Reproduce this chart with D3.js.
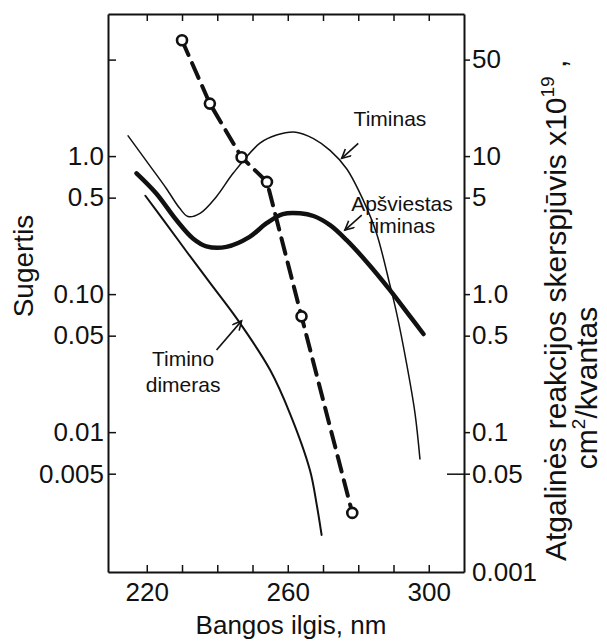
<!doctype html>
<html lang="lt">
<head>
<meta charset="UTF-8">
<title>Sugertis ir atgalinės reakcijos skerspjūvis</title>
<style>
  body { margin: 0; background: #fff; }
  svg text { font-family: "Liberation Sans", Arial, Helvetica, sans-serif; fill: #111; }
  .axis path { stroke: #111; stroke-width: 2px; }
  .axis line { stroke: #111; stroke-width: 1.5px; }
  .axis text { font-size: 26px; }
  .curve { fill: none; stroke: #111; stroke-linejoin: round; stroke-linecap: round; }
  .note { font-size: 21px; }
</style>
</head>
<body>
<svg id="chart" width="607" height="641"></svg>
<script src="https://d3js.org/d3.v7.min.js"></script>
<script>
// [bangos ilgis nm, sugertis]
const timinas = [[214.7,1.40],[220.9,0.85],[225.6,0.58],[229.3,0.42],[231.7,0.365],[235.1,0.385],
  [239.8,0.51],[244.5,0.75],[252.1,1.24],[256.8,1.42],[262.3,1.49],[267.3,1.34],[272.0,1.10],
  [276.7,0.81],[281.4,0.48],[285.2,0.275],[289.0,0.116],[290.9,0.0725],[293.7,0.0315],
  [296.1,0.0137],[297.5,0.0064]];
const apsviestas = [[217.1,0.75],[222.7,0.536],[228.4,0.344],[233.1,0.253],[236.9,0.222],
  [242.6,0.22],[249.2,0.26],[253.9,0.325],[258.6,0.38],[263.5,0.385],[267.3,0.368],[272.0,0.316],
  [276.7,0.246],[282.4,0.171],[289.0,0.107],[294.7,0.069],[298.5,0.0514]];
const dimeras = [[219.6,0.516],[225.0,0.337],[231.7,0.197],[238.0,0.12],[245.9,0.0645],
  [255.0,0.0282],[260.6,0.0137],[266.3,0.0053],[268.2,0.0030],[269.6,0.0018]];
// [bangos ilgis nm, skerspjuvis x10^19] (desine asis)
const skerspjuvis = [[230.0,69],[237.9,24],[246.9,9.8],[254.1,6.5],[263.9,0.69],[278.3,0.026]];

// asiu padalos
const xTicks = [220,230,240,250,260,270,280,290,300];
const xLabels = ["220","","","","260","","","","300"];
const leftTicks = [5,1,0.5,0.1,0.05,0.01,0.005];
const leftLabels = ["","1.0","0.5","0.10","0.05","0.01","0.005"];
const rightTicks = [50,10,5,1,0.5,0.1,0.05,0.0097];
const rightLabels = ["50","10","5","1.0","0.5","0.1","0.05","0.001"];

// uzrasai su rodyklemis: teksto vieta ir rodykle (duomenu koordinatemis)
const notes = [
  {lines:["Timinas"], x:289.0, y:[1.65], from:[280.0,1.236], to:[275.3,0.962]},
  {lines:["Apšviestas","timinas"], x:292.4, y:[0.399,0.277], from:[281.0,0.373], to:[276.2,0.291]},
  {lines:["Timino","dimeras"], x:230.3, y:[0.0302,0.0195], from:[239.8,0.0393], to:[246.9,0.064]}
];

const L = 108, R = 464, T = 14, B = 572;
const svg = d3.select("#chart");

const x = d3.scaleLinear().domain([209, 310]).range([L, R]);
const y = d3.scaleLog().domain([0.00097, 10.7]).range([B, T]);
const yR = d3.scaleLog().domain([0.0097, 107]).range([B, T]);

// rodykles galvute
svg.append("defs").append("marker")
    .attr("id", "arrow")
    .attr("markerUnits", "userSpaceOnUse")
    .attr("markerWidth", 12).attr("markerHeight", 12)
    .attr("refX", 10).attr("refY", 5)
    .attr("orient", "auto")
  .append("path")
    .attr("d", "M1,0.5 L10,5 L1,9.5")
    .attr("fill", "none").attr("stroke", "#111").attr("stroke-width", 1.6);

// asys
svg.append("g").attr("class", "axis")
    .attr("transform", `translate(${L},0)`)
    .call(d3.axisLeft(y).tickValues(leftTicks).tickFormat((d, i) => leftLabels[i])
      .tickSize(-8).tickSizeOuter(0).tickPadding(4));

svg.append("g").attr("class", "axis")
    .attr("transform", `translate(0,${B})`)
    .call(d3.axisBottom(x).tickValues(xTicks).tickFormat((d, i) => xLabels[i])
      .tickSize(-7).tickSizeOuter(0).tickPadding(11));

svg.append("g").attr("class", "axis")
    .attr("transform", `translate(0,${T})`)
    .call(d3.axisTop(x).tickValues(xTicks).tickFormat("").tickSize(-7).tickSizeOuter(0));

const rightAxis = svg.append("g").attr("class", "axis")
    .attr("transform", `translate(${R},0)`)
    .call(d3.axisRight(yR).tickValues(rightTicks).tickFormat((d, i) => rightLabels[i])
      .tickSize(6).tickSizeOuter(0).tickPadding(2));
// 0.05 padala kyšo ir i vidu
rightAxis.selectAll(".tick").filter(d => d === 0.05).select("line").attr("x1", -17);
rightAxis.selectAll(".tick").filter(d => d === 0.0097).select("line").remove();

// kreives
const line = d3.line()
    .x(d => x(d[0]))
    .y(d => y(d[1]))
    .curve(d3.curveCatmullRom.alpha(0.5));

svg.append("path").datum(timinas).attr("class", "curve")
    .attr("stroke-width", 1.5).attr("d", line);
svg.append("path").datum(dimeras).attr("class", "curve")
    .attr("stroke-width", 2).attr("d", line);
svg.append("path").datum(apsviestas).attr("class", "curve")
    .attr("stroke-width", 4.5).attr("d", line);

const lineR = d3.line().x(d => x(d[0])).y(d => yR(d[1]));
svg.append("path").datum(skerspjuvis).attr("class", "curve")
    .attr("stroke-width", 4)
    .attr("stroke-linecap", "butt")
    .attr("stroke-dasharray", "16,9")
    .attr("d", lineR);

svg.selectAll("circle.pt").data(skerspjuvis).join("circle")
    .attr("class", "pt")
    .attr("cx", d => x(d[0])).attr("cy", d => yR(d[1]))
    .attr("r", 5)
    .attr("fill", "#fff").attr("stroke", "#111").attr("stroke-width", 2.6);

// uzrasai
notes.forEach(n => {
  n.lines.forEach((t, i) => {
    svg.append("text").attr("class", "note")
        .attr("x", x(n.x)).attr("y", y(n.y[i]))
        .attr("text-anchor", "middle")
        .text(t);
  });
  svg.append("line")
      .attr("x1", x(n.from[0])).attr("y1", y(n.from[1]))
      .attr("x2", x(n.to[0])).attr("y2", y(n.to[1]))
      .attr("stroke", "#111").attr("stroke-width", 1.6)
      .attr("marker-end", "url(#arrow)");
});

// asiu pavadinimai
svg.append("text")
    .attr("x", 291).attr("y", 634)
    .attr("text-anchor", "middle")
    .style("font-size", "26px")
    .text("Bangos ilgis, nm");

svg.append("text")
    .attr("transform", "translate(33,266) rotate(-90)")
    .attr("text-anchor", "middle")
    .style("font-size", "28px")
    .text("Sugertis");

const rt = svg.append("text")
    .attr("transform", "translate(566,561) rotate(-90)")
    .attr("text-anchor", "start")
    .style("font-size", "30px");
rt.append("tspan").text("Atgalinės reakcijos skerspjūvis x10");
rt.append("tspan").attr("dy", -12).style("font-size", "19px").text("19");
rt.append("tspan").attr("dy", 12).text(" ,");

const rt2 = svg.append("text")
    .attr("transform", "translate(597,388) rotate(-90)")
    .attr("text-anchor", "middle")
    .style("font-size", "30px");
rt2.append("tspan").text("cm");
rt2.append("tspan").attr("dy", -12).style("font-size", "19px").text("2");
rt2.append("tspan").attr("dy", 12).text("/kvantas");
</script>
</body>
</html>
